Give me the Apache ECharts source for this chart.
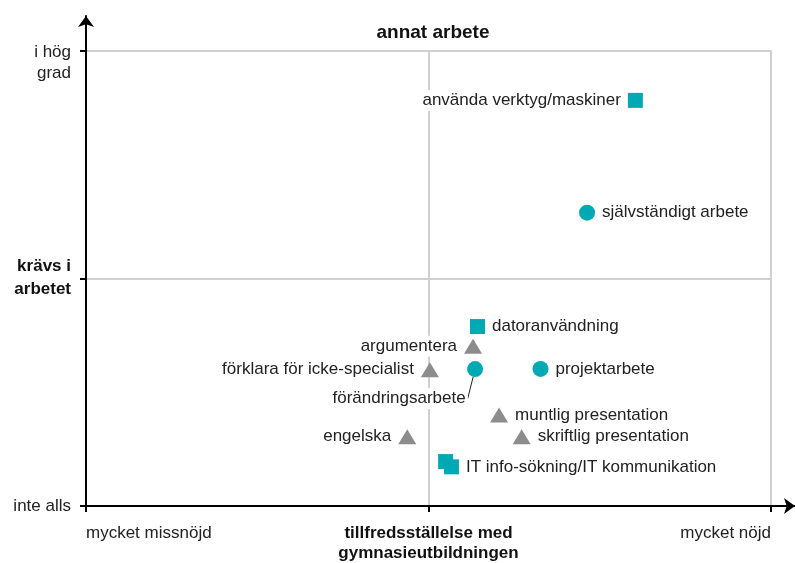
<!DOCTYPE html>
<html>
<head>
<meta charset="utf-8">
<script src="https://cdn.jsdelivr.net/npm/echarts@6/dist/echarts.min.js"></script>
<style>
  html, body { margin: 0; padding: 0; background: #fff; }
  #chart { width: 795px; height: 563px; }
</style>
</head>
<body>
<div id="chart"></div>
<script>
// värden (x: tillfredsställelse 0-2, y: krävs i arbetet 0-2)
const squareNames = ["använda verktyg/maskiner", "datoranvändning", "", "IT info-sökning/IT kommunikation"];
const squareX = [1.604, 1.143, 1.050, 1.067];
const squareY = [1.781, 0.788, 0.195, 0.172];
const squarePos = ["left", "right", "right", "right"];

const circleNames = ["självständigt arbete", "förändringsarbete", "projektarbete"];
const circleX = [1.463, 1.136, 1.327];
const circleY = [1.288, 0.601, 0.602];
const circlePos = ["right", "bottom", "right"];

const triangleNames = ["argumentera", "förklara för icke-specialist", "muntlig presentation", "skriftlig presentation", "engelska"];
const triangleX = [1.130, 1.004, 1.206, 1.272, 0.938];
const triangleY = [0.701, 0.598, 0.400, 0.304, 0.304];
const trianglePos = ["left", "left", "right", "right", "left"];

const xTickLabels = ["mycket missnöjd", "tillfredsställelse med\ngymnasieutbildningen", "mycket nöjd"];
const yTickLabels = ["inte alls", "krävs i\narbetet", "i hög\ngrad"];

const TEAL = "#00a9b3";
const GREY = "#8c8c8c";
const FONT = "Liberation Sans";

const myChart = echarts.init(document.getElementById("chart"));

const buildData = (names, xs, ys, pos) => names.map((n, i) => {
    const item = {
        name: n,
        value: [xs[i], ys[i]],
        label: { show: n !== "", position: pos[i] }
    };
    if (n === "förändringsarbete") {
        item.labelLine = { show: true, lineStyle: { color: "#222", width: 1 } };
    }
    return item;
});

const labelBase = {
    formatter: "{b}",
    color: "#222",
    fontFamily: FONT,
    fontSize: 17,
    distance: 5,
    backgroundColor: "#fff",
    padding: [2, 2]
};

const tick = { show: true, length: 6, lineStyle: { color: "#000", width: 2 } };
const gridLine = { show: true, lineStyle: { color: "#d0d0d0", width: 2 } };
const arrowLine = {
    show: true,
    lineStyle: { color: "#000", width: 2 },
    symbol: ["none", "arrow"],
    symbolSize: [12, 11]
};

const option = {
    animation: false,
    title: {
        text: "annat arbete",
        left: 428,
        top: 18,
        textAlign: "center",
        textStyle: { fontFamily: FONT, fontSize: 19, fontWeight: "bold", color: "#111" }
    },
    grid: [
        // rutan 0-2 med data och stödlinjer
        { left: 86, right: 24, top: 50.5, bottom: 57 },
        // axlarna med pilar, lite längre än rutan
        { left: 86, right: 0, top: 16, bottom: 57 }
    ],
    xAxis: [
        {
            type: "value",
            gridIndex: 0,
            min: 0,
            max: 2,
            interval: 1,
            axisLine: { show: false },
            axisTick: tick,
            splitLine: gridLine,
            axisLabel: {
                margin: 17,
                alignMinLabel: "left",
                alignMaxLabel: "right",
                fontFamily: FONT,
                fontSize: 17,
                color: "#222",
                lineHeight: 20,
                formatter: (v) => {
                    const i = Math.round(v);
                    return i === 1 ? "{b|" + xTickLabels[1].split("\n").join("}\n{b|") + "}" : xTickLabels[i];
                },
                rich: {
                    b: { fontFamily: FONT, fontSize: 17, fontWeight: "bold", color: "#111", lineHeight: 20 }
                }
            }
        },
        {
            type: "value",
            gridIndex: 1,
            min: 0,
            max: 1,
            axisLine: arrowLine,
            axisTick: { show: false },
            axisLabel: { show: false },
            splitLine: { show: false }
        }
    ],
    yAxis: [
        {
            type: "value",
            gridIndex: 0,
            min: 0,
            max: 2,
            interval: 1,
            axisLine: { show: false },
            axisTick: tick,
            splitLine: gridLine,
            axisLabel: {
                margin: 15,
                fontFamily: FONT,
                fontSize: 17,
                color: "#222",
                formatter: (v) => {
                    const i = Math.round(v);
                    const lines = yTickLabels[i].split("\n");
                    if (i === 1) return lines.map((l) => "{b|" + l + "}").join("\n");
                    if (i === 2) return "{s|}\n" + lines.map((l) => "{n|" + l + "}").join("\n");
                    return "{n|" + lines[0] + "}";
                },
                rich: {
                    n: { fontFamily: FONT, fontSize: 17, color: "#222", lineHeight: 21, align: "right" },
                    b: { fontFamily: FONT, fontSize: 17, fontWeight: "bold", color: "#111", lineHeight: 23, align: "right" },
                    s: { height: 24, lineHeight: 24 }
                }
            }
        },
        {
            type: "value",
            gridIndex: 1,
            min: 0,
            max: 1,
            axisLine: arrowLine,
            axisTick: { show: false },
            axisLabel: { show: false },
            splitLine: { show: false }
        }
    ],
    series: [
        {
            name: "squares",
            type: "scatter",
            symbol: "rect",
            symbolSize: 15,
            itemStyle: { color: TEAL, opacity: 1 },
            label: labelBase,
            data: buildData(squareNames, squareX, squareY, squarePos)
        },
        {
            name: "circles",
            type: "scatter",
            symbol: "circle",
            symbolSize: 16,
            itemStyle: { color: TEAL, opacity: 1 },
            label: labelBase,
            labelLine: { show: false },
            labelLayout: (params) => {
                if (params.dataIndex === 1) return { dx: -76, dy: 6 };
                return {};
            },
            data: buildData(circleNames, circleX, circleY, circlePos)
        },
        {
            name: "triangles",
            type: "scatter",
            symbol: "triangle",
            symbolSize: [18, 15],
            itemStyle: { color: GREY, opacity: 1 },
            label: labelBase,
            data: buildData(triangleNames, triangleX, triangleY, trianglePos)
        }
    ]
};

myChart.setOption(option);
</script>
</body>
</html>
